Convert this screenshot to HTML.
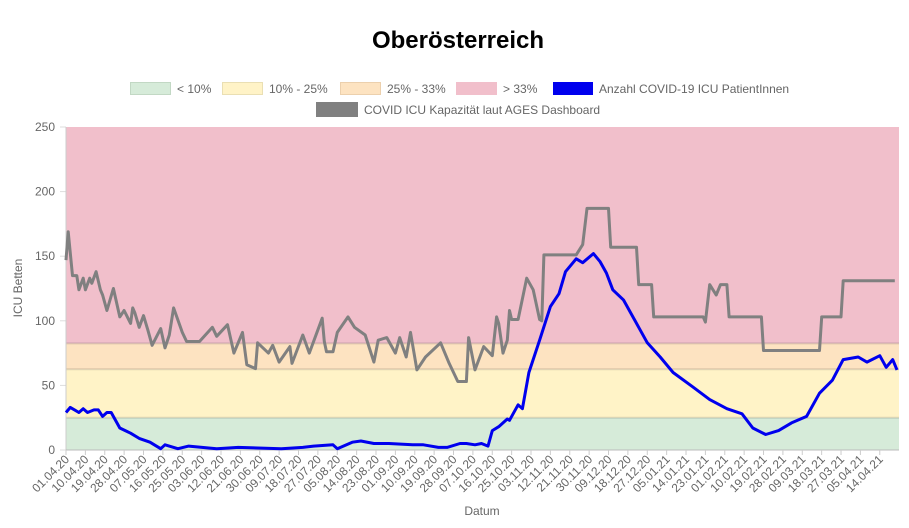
<!DOCTYPE html>
<html><head><meta charset="utf-8"><style>
html,body{margin:0;padding:0;background:#fff;}
svg{display:block;font-family:"Liberation Sans",Arial,sans-serif;}
</style></head><body>
<svg id="chart" width="909" height="528" viewBox="0 0 909 528">
<text x="458" y="48" text-anchor="middle" font-size="24" font-weight="bold" fill="#000">Oberösterreich</text>
<g id="legend" font-size="12" fill="#666">
 <g><rect x="130.5" y="82.5" width="40" height="12" fill="#d6ebd9" stroke="#c2d8c4"/><text x="177" y="93">&lt; 10%</text></g>
 <g><rect x="222.5" y="82.5" width="40" height="12" fill="#fff3c7" stroke="#eadfb3"/><text x="269" y="93">10% - 25%</text></g>
 <g><rect x="340.5" y="82.5" width="40" height="12" fill="#fde3c1" stroke="#ecd0ad"/><text x="387" y="93">25% - 33%</text></g>
 <g><rect x="456.5" y="82.5" width="40" height="12" fill="#f1bfcb" stroke="#f1bfcb"/><text x="503" y="93">&gt; 33%</text></g>
 <g><rect x="553" y="82" width="40" height="13" fill="#0000ee"/><text x="599" y="93">Anzahl COVID-19 ICU PatientInnen</text></g>
 <g><rect x="316" y="102" width="42" height="15" fill="#808080"/><text x="364" y="114">COVID ICU Kapazität laut AGES Dashboard</text></g>
</g>
<g id="plot"></g>
<text x="482" y="515" text-anchor="middle" font-size="12" fill="#666">Datum</text>
<text transform="translate(22,288) rotate(-90)" text-anchor="middle" font-size="12" fill="#666">ICU Betten</text>
</svg>
<script>
const yTicks=[0,50,100,150,200,250];
const bandLimits=[0,25,62.5,82.5,250];
const bandColors=["#d6ebd9","#fff3c7","#fde3c1","#f1bfcb"];
const bandNames=["band-under-10","band-10-25","band-25-33","band-over-33"];
const xLabels=["01.04.20","10.04.20","19.04.20","28.04.20","07.05.20","16.05.20","25.05.20","03.06.20","12.06.20","21.06.20","30.06.20","09.07.20","18.07.20","27.07.20","05.08.20","14.08.20","23.08.20","01.09.20","10.09.20","19.09.20","28.09.20","07.10.20","16.10.20","25.10.20","03.11.20","12.11.20","21.11.20","30.11.20","09.12.20","18.12.20","27.12.20","05.01.21","14.01.21","23.01.21","01.02.21","10.02.21","19.02.21","28.02.21","09.03.21","18.03.21","27.03.21","05.04.21","14.04.21"];
const totalDays=386;
const patientDays=[0,2,4,6,8,10,13,15,17,19,21,25,30,34,39,41,44,46,52,57,70,80,100,110,115,124,126,133,137,143,150,161,166,173,177,183,186,190,193,196,198,201,205,206,210,212,215,220,225,229,232,237,240,245,248,251,254,259,266,270,276,282,291,299,307,314,319,325,331,337,344,350,356,361,368,372,378,381,384,386];
const patientValues=[29,33,31,29,32,29,31,31,26,29,29,17,13,9,6,4,1,4,1,3,1,2,1,2,3,4,1,6,7,5,5,4,4,2,2,5,5,4,5,3,15,18,24,23,35,32,60,85,111,121,138,148,145,152,146,137,124,116,95,83,72,60,49,39,32,28,17,12,15,21,26,44,54,70,72,68,73,64,70,62];
const capDays=[0,1,3,5,6,8,9,11,12,14,16,17,19,22,25,27,30,31,32,34,36,38,40,44,46,48,50,54,56,57,62,68,70,75,78,82,84,88,89,94,96,99,104,105,110,113,119,120,121,124,126,131,134,139,143,145,149,153,155,158,160,163,167,174,178,182,186,187,190,194,198,200,201,203,205,206,207,210,214,217,220,221,222,237,240,242,252,253,265,266,272,273,296,297,299,302,304,307,308,323,324,350,351,360,361,385];
const capValues=[147,169,135,135,124,133,124,133,129,138,124,120,108,125,103,108,98,110,106,95,104,93,81,94,79,89,110,91,84,84,84,95,88,97,75,91,66,63,83,75,81,68,80,67,89,75,102,84,76,76,91,103,95,89,68,85,87,75,87,72,91,62,72,83,67,53,53,87,62,80,73,103,98,75,85,108,101,101,133,124,101,100,151,151,159,187,187,157,157,128,128,103,103,99,128,120,128,128,103,103,77,77,103,103,131,131];

const svg=document.getElementById('chart');
const plot=document.getElementById('plot');
const NS='http://www.w3.org/2000/svg';
const X0=66,X1=897,Y0=450,Y1=127,XR=899;
function xs(d){return X0+d/totalDays*(X1-X0);}
function ys(v){return Y0-v/250*(Y0-Y1);}
function mk(tag,attrs){const e=document.createElementNS(NS,tag);for(const k in attrs)e.setAttribute(k,attrs[k]);plot.appendChild(e);return e;}

for(let i=0;i<bandColors.length;i++){
  const r=mk('rect',{x:X0,y:ys(bandLimits[i+1]),width:XR-X0,height:ys(bandLimits[i])-ys(bandLimits[i+1]),fill:bandColors[i]});
  
  
  if(i>0){const l=mk('line',{x1:X0,x2:XR,y1:ys(bandLimits[i]),y2:ys(bandLimits[i]),stroke:'rgba(0,0,0,0.12)','stroke-width':2});
  
  }
}
yTicks.forEach(v=>{
  const t=mk('text',{x:55,y:ys(v)+4,'text-anchor':'end','font-size':12,fill:'#666'});
  t.textContent=v;
  
  
  const g=mk('line',{x1:60,x2:X0,y1:ys(v),y2:ys(v),stroke:'#ddd'});
  
  
});
const ax=mk('line',{x1:X0,x2:X0,y1:Y1,y2:Y0+5,stroke:'#ccc'});


const bx=mk('line',{x1:X0,x2:XR,y1:Y0,y2:Y0,stroke:'#bbb'});


xLabels.forEach((s,i)=>{
  const x=xs(i*9);
  const tk=mk('line',{x1:x,x2:x,y1:Y0,y2:Y0+5,stroke:'#ccc'});
  
  
  const t=mk('text',{x:0,y:0,'text-anchor':'end','font-size':12,fill:'#666',transform:`translate(${x+4},${Y0+10}) rotate(-45)`});
  t.textContent=s;
  
  
});
function line(days,vals,color,w,name){
  const p=mk('path',{d:days.map((d,i)=>(i?'L':'M')+xs(d).toFixed(1)+','+ys(vals[i]).toFixed(1)).join(' '),fill:'none',stroke:color,'stroke-width':w,'stroke-linejoin':'round'});
  
  
}
line(capDays,capValues,'#808080',3,'capacity-line');
line(patientDays,patientValues,'#0000ee',3,'patients-line');
</script>
</body></html>
